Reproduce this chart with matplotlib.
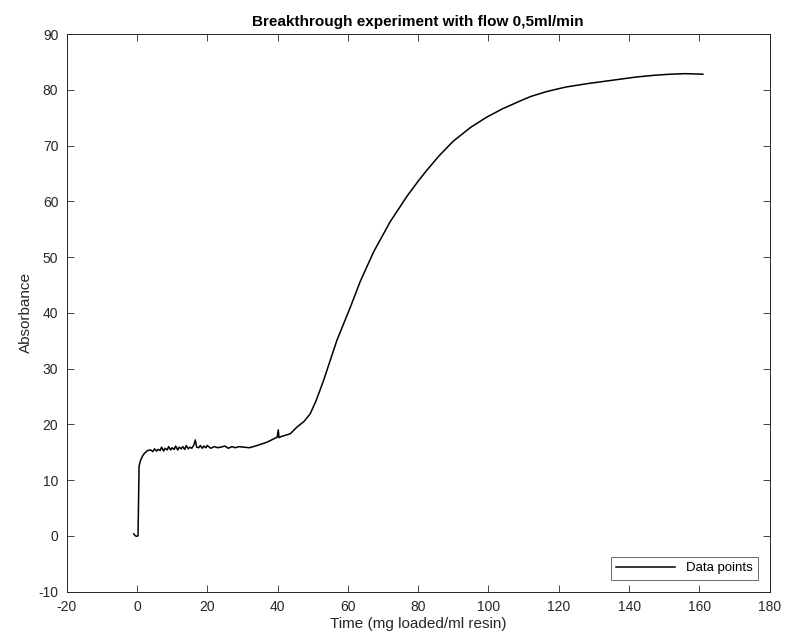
import matplotlib
matplotlib.use('Agg')
import matplotlib.pyplot as plt

plt.rcParams['font.family'] = ['Liberation Sans', 'DejaVu Sans']
plt.rcParams['axes.unicode_minus'] = False  # MATLAB-style "-20"

# Breakthrough curve
time = [-0.9, -0.5, 0.0, 0.3, 0.6, 1.0, 1.5, 2.0, 3.0, 3.9, 4.5, 5.0, 5.6, 6.0,
        6.6, 7.0, 7.6, 8.0, 8.6, 9.0, 9.6, 10.0, 10.6, 11.0, 11.6, 12.0, 12.6,
        13.0, 13.6, 14.0, 14.6, 15.0, 15.6, 16.2, 16.6, 17.0, 17.6, 18.0, 18.6,
        19.0, 19.6, 20.0, 21.0, 22.0, 23.0, 23.8, 25.0, 26.0, 27.0, 28.0, 29.0,
        30.4, 32.0, 34.2, 37.0, 39.9, 40.2, 40.4, 41.0, 43.6, 45.5, 47.5, 49.3,
        51.0, 53.1, 56.9, 60.7, 63.5, 67.3, 72.0, 76.8, 80.1, 82.5, 86.0, 90.0,
        95.0, 99.5, 104.0, 109.0, 112.0, 116.6, 122.0, 128.0, 135.0, 142.1,
        147.0, 151.6, 156.0, 161.0]
absorbance = [0.36, 0.0, -0.1, 0.0, 12.5, 13.5, 14.2, 14.7, 15.3, 15.4, 15.1, 15.6,
              15.2, 15.5, 15.3, 15.9, 15.2, 15.7, 15.4, 16.0, 15.4, 15.8, 15.5,
              16.1, 15.4, 15.9, 15.6, 16.0, 15.5, 16.2, 15.6, 15.9, 15.7, 16.3,
              17.2, 15.9, 15.8, 16.2, 15.7, 16.1, 15.8, 16.2, 15.7, 16.0, 15.8,
              15.9, 16.1, 15.7, 16.0, 15.8, 16.0, 15.9, 15.8, 16.2, 16.8, 17.7,
              19.0, 17.6, 17.8, 18.3, 19.5, 20.5, 21.9, 24.3, 27.9, 35.1, 41.0,
              45.6, 50.9, 56.3, 60.9, 63.7, 65.6, 68.2, 70.8, 73.3, 75.1, 76.6,
              78.0, 78.8, 79.7, 80.5, 81.1, 81.7, 82.3, 82.6, 82.8, 82.9, 82.8]

fig = plt.figure(figsize=(7.87, 6.43), dpi=100)
ax = fig.add_axes([0.0847, 0.0800, 0.8933, 0.8670])

ax.plot(time, absorbance, color='black', lw=1.1, label='Data points')

ax.set_xlim(-20, 180)
ax.set_ylim(-10, 90)
ax.set_xticks(range(-20, 181, 20))
ax.set_yticks(range(-10, 91, 10))
ax.tick_params(direction='in', top=True, right=True, length=5, width=0.6,
               labelsize=10, colors='#262626', pad=6)
for s in ax.spines.values():
  s.set_color('#262626')
  s.set_linewidth(0.7)

ax.set_xlabel('Time (mg loaded/ml resin)', fontsize=11, color='#262626', labelpad=2)
ax.set_ylabel('Absorbance', fontsize=11, color='#262626', labelpad=4)
ax.set_title('Breakthrough experiment with flow 0,5ml/min', fontsize=11,
             fontweight='bold', pad=6)

leg = ax.legend(loc='lower right', fontsize=9.5, fancybox=False,
                borderaxespad=0.9, handlelength=4.5, borderpad=0.4)
leg.get_frame().set_edgecolor('#262626')
leg.get_frame().set_linewidth(0.6)

fig.savefig('out.png', dpi=100)
